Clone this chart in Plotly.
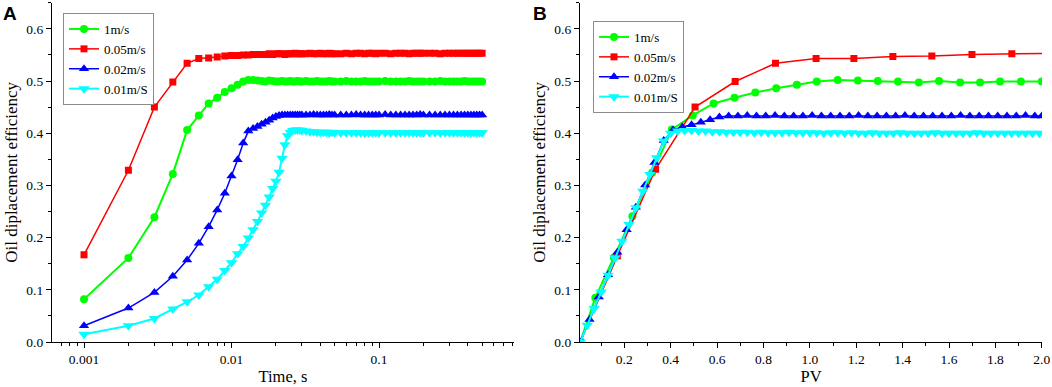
import plotly.graph_objects as go

# ---------------- Panel A: efficiency vs time (log x) ----------------
time_s = [0.001, 0.002, 0.003, 0.004, 0.005, 0.006, 0.007, 0.008, 0.009, 0.010,
          0.011, 0.012, 0.013, 0.014, 0.015, 0.016, 0.017, 0.018, 0.019, 0.020,
          0.021, 0.022, 0.023, 0.024, 0.025, 0.026, 0.027, 0.028, 0.029, 0.030,
          0.032, 0.034, 0.036, 0.038, 0.040, 0.042, 0.044, 0.046, 0.048, 0.050,
          0.055, 0.060, 0.065, 0.070, 0.075, 0.080, 0.085, 0.090, 0.095, 0.100,
          0.11, 0.12, 0.13, 0.14, 0.15, 0.16, 0.17, 0.18, 0.19, 0.20,
          0.22, 0.24, 0.26, 0.28, 0.30, 0.32, 0.34, 0.36, 0.38, 0.40, 0.42, 0.44, 0.46, 0.48, 0.50]

a_1ms = [0.082, 0.161, 0.239, 0.322, 0.406, 0.434, 0.457, 0.468, 0.479, 0.486,
         0.493, 0.499, 0.502, 0.502, 0.501, 0.500, 0.499, 0.501, 0.500, 0.499,
         0.499, 0.500, 0.499, 0.499, 0.500, 0.499, 0.499, 0.500, 0.499, 0.499,
         0.500, 0.499, 0.499, 0.500, 0.499, 0.499, 0.499, 0.500, 0.499, 0.499,
         0.499, 0.500, 0.499, 0.499, 0.499, 0.500, 0.499, 0.499, 0.499, 0.499,
         0.500, 0.499, 0.499, 0.499, 0.499, 0.500, 0.499, 0.499, 0.499, 0.499,
         0.499, 0.499, 0.500, 0.499, 0.499, 0.499, 0.499, 0.499, 0.500, 0.499, 0.499, 0.499, 0.499, 0.499, 0.499]

a_005ms = [0.167, 0.329, 0.450, 0.498, 0.534, 0.543, 0.544, 0.546, 0.548, 0.549,
           0.549, 0.550, 0.550, 0.551, 0.551, 0.551, 0.551, 0.552, 0.551, 0.552,
           0.552, 0.552, 0.551, 0.552, 0.552, 0.552, 0.553, 0.552, 0.552, 0.552,
           0.552, 0.553, 0.552, 0.552, 0.553, 0.552, 0.552, 0.553, 0.552, 0.552,
           0.552, 0.553, 0.552, 0.553, 0.553, 0.552, 0.553, 0.553, 0.552, 0.553,
           0.553, 0.552, 0.553, 0.553, 0.553, 0.552, 0.553, 0.553, 0.553, 0.553,
           0.553, 0.553, 0.552, 0.553, 0.553, 0.553, 0.553, 0.553, 0.553, 0.553, 0.553, 0.553, 0.553, 0.553, 0.553]

a_002ms = [0.031, 0.065, 0.095, 0.126, 0.157, 0.189, 0.221, 0.253, 0.285, 0.318,
           0.349, 0.381, 0.404, 0.409, 0.413, 0.417, 0.421, 0.425, 0.429, 0.432,
           0.434, 0.435, 0.435, 0.435, 0.435, 0.435, 0.435, 0.435, 0.435, 0.435,
           0.435, 0.435, 0.436, 0.435, 0.435, 0.435, 0.435, 0.436, 0.435, 0.435,
           0.435, 0.435, 0.435, 0.436, 0.435, 0.435, 0.435, 0.435, 0.435, 0.435,
           0.436, 0.435, 0.435, 0.435, 0.435, 0.435, 0.435, 0.435, 0.436, 0.435,
           0.435, 0.435, 0.435, 0.435, 0.435, 0.435, 0.435, 0.435, 0.435, 0.435, 0.435, 0.435, 0.435, 0.435, 0.435]

a_001ms = [0.015, 0.031, 0.045, 0.063, 0.077, 0.090, 0.106, 0.120, 0.137, 0.152,
           0.169, 0.183, 0.199, 0.215, 0.231, 0.247, 0.262, 0.278, 0.294, 0.308,
           0.325, 0.352, 0.378, 0.395, 0.402, 0.405, 0.406, 0.406, 0.406, 0.405,
           0.404, 0.403, 0.403, 0.402, 0.402, 0.402, 0.402, 0.401, 0.402, 0.401,
           0.401, 0.401, 0.401, 0.401, 0.401, 0.400, 0.401, 0.401, 0.401, 0.401,
           0.401, 0.401, 0.401, 0.401, 0.401, 0.401, 0.401, 0.401, 0.401, 0.401,
           0.401, 0.401, 0.401, 0.401, 0.401, 0.401, 0.401, 0.401, 0.401, 0.401, 0.401, 0.401, 0.401, 0.401, 0.401]

# ---------------- Panel B: efficiency vs PV ----------------
pv_1ms = [0.01, 0.075, 0.155, 0.235, 0.32, 0.405, 0.495, 0.585, 0.675, 0.765, 0.855, 0.944,
          1.03, 1.12, 1.207, 1.293, 1.38, 1.47, 1.557, 1.648, 1.734, 1.82, 1.91, 2.0]
b_1ms = [0.0, 0.085, 0.162, 0.241, 0.324, 0.407, 0.434, 0.457, 0.468, 0.478, 0.486, 0.493,
         0.499, 0.502, 0.501, 0.500, 0.499, 0.497, 0.500, 0.497, 0.497, 0.499, 0.499, 0.499]

pv_005ms = [0.01, 0.17, 0.335, 0.505, 0.678, 0.852, 1.027, 1.19, 1.358, 1.526, 1.699, 1.871, 2.04]
b_005ms = [0.0, 0.165, 0.331, 0.450, 0.499, 0.534, 0.543, 0.543, 0.547, 0.548, 0.551, 0.552, 0.553]

pv_002ms = [0.01, 0.05, 0.09, 0.13, 0.17, 0.21, 0.25, 0.29, 0.33, 0.37, 0.41, 0.45, 0.49,
            0.53, 0.57, 0.61, 0.65, 0.69, 0.73, 0.77, 0.81, 0.85, 0.89, 0.93, 0.97,
            1.01, 1.05, 1.09, 1.13, 1.17, 1.21, 1.25, 1.29, 1.33, 1.37, 1.41, 1.45, 1.49,
            1.53, 1.57, 1.61, 1.65, 1.69, 1.73, 1.77, 1.81, 1.85, 1.89, 1.93, 1.97, 2.00]
b_002ms = [0.000, 0.043, 0.086, 0.129, 0.172, 0.215, 0.258, 0.301, 0.344, 0.386,
           0.406, 0.412, 0.416, 0.421, 0.426, 0.431, 0.433,
           0.433, 0.434, 0.433, 0.433, 0.434, 0.433, 0.433, 0.433, 0.434, 0.433,
           0.433, 0.433, 0.433, 0.434, 0.433, 0.433, 0.433, 0.433, 0.434, 0.433,
           0.433, 0.433, 0.433, 0.433, 0.434, 0.433, 0.433, 0.433, 0.433, 0.433,
           0.433, 0.434, 0.433, 0.433]

pv_001ms = [0.01, 0.04, 0.07, 0.10, 0.13, 0.16, 0.19, 0.22, 0.25, 0.28, 0.31, 0.34, 0.37,
            0.40, 0.43, 0.46, 0.49, 0.52, 0.55, 0.58, 0.61, 0.64, 0.67, 0.70, 0.73, 0.76,
            0.79, 0.82, 0.85, 0.88, 0.91, 0.94, 0.97, 1.00, 1.03, 1.06, 1.09, 1.12, 1.15,
            1.18, 1.21, 1.24, 1.27, 1.30, 1.33, 1.36, 1.39, 1.42, 1.45, 1.48, 1.51, 1.54,
            1.57, 1.60, 1.63, 1.66, 1.69, 1.72, 1.75, 1.78, 1.81, 1.84, 1.87, 1.90, 1.93,
            1.96, 1.99]
b_001ms = [0.000, 0.032, 0.064, 0.096, 0.128, 0.161, 0.193, 0.225, 0.257, 0.289, 0.321, 0.353, 0.385,
           0.400, 0.404, 0.405, 0.405, 0.404, 0.404, 0.403, 0.403, 0.402,
           0.402, 0.402, 0.402, 0.401, 0.402, 0.401, 0.401, 0.401, 0.402, 0.401,
           0.401, 0.401, 0.401, 0.400, 0.401, 0.401, 0.400, 0.401, 0.400, 0.400,
           0.401, 0.400, 0.400, 0.400, 0.401, 0.400, 0.400, 0.400, 0.400, 0.401,
           0.400, 0.400, 0.400, 0.400, 0.400, 0.401, 0.400, 0.400, 0.400, 0.400,
           0.400, 0.400, 0.400, 0.400, 0.400]

for arr in (a_1ms, a_005ms, a_002ms, a_001ms):
    assert len(arr) == len(time_s), len(arr)
assert len(pv_1ms) == len(b_1ms)
assert len(pv_005ms) == len(b_005ms)
assert len(pv_002ms) == len(b_002ms), (len(pv_002ms), len(b_002ms))
assert len(pv_001ms) == len(b_001ms), (len(pv_001ms), len(b_001ms))

series_names = ["1m/s", "0.05m/s", "0.02m/s", "0.01m/S"]
colors = ["#00FF00", "#FF0000", "#0000FF", "#00FFFF"]
symbols = ["circle", "square", "triangle-up", "triangle-down"]
msizes = [8, 7, 9, 10]
lwidths = [2, 1.5, 1.5, 2]

SERIF = "Liberation Serif"
fig = go.Figure()

a_data = [a_1ms, a_005ms, a_002ms, a_001ms]
b_data = [(pv_1ms, b_1ms), (pv_005ms, b_005ms), (pv_002ms, b_002ms), (pv_001ms, b_001ms)]

for i in range(4):
    fig.add_trace(go.Scatter(
        x=time_s, y=a_data[i], mode="lines+markers", name=series_names[i],
        line=dict(color=colors[i], width=lwidths[i]),
        marker=dict(symbol=symbols[i], size=msizes[i], color=colors[i], line=dict(width=0)),
        xaxis="x", yaxis="y", legend="legend"))
for i in range(4):
    fig.add_trace(go.Scatter(
        x=b_data[i][0], y=b_data[i][1], mode="lines+markers", name=series_names[i],
        line=dict(color=colors[i], width=lwidths[i]),
        marker=dict(symbol=symbols[i], size=msizes[i], color=colors[i], line=dict(width=0)),
        xaxis="x2", yaxis="y2", legend="legend2"))

W, H = 1052, 387
ybot = (H - 342) / H
ytop = (H - 2.7) / H

axis_common = dict(showline=True, linecolor="black", linewidth=1.2, showgrid=False,
                   zeroline=False, ticks="outside", ticklen=5, tickwidth=1.2, tickcolor="black",
                   tickfont=dict(family=SERIF, size=13.5, color="black"), automargin=False)

minor_log = [m * 10.0 ** e for e in (-4, -3, -2, -1) for m in range(2, 10)]

yaxis_common = dict(axis_common, range=[0, 0.65], dtick=0.1, tick0=0, tickformat=".1f",
                    minor=dict(dtick=0.05, tick0=0, ticks="outside", ticklen=3, tickcolor="black"),
                    title=dict(text="Oil diplacement efficiency",
                               font=dict(family=SERIF, size=17, color="black"), standoff=4))

fig.update_layout(
    width=W, height=H, margin=dict(l=0, r=0, t=0, b=0),
    paper_bgcolor="white", plot_bgcolor="white",
    xaxis=dict(axis_common, type="log", domain=[52 / W, 514 / W], range=[-3.217, -0.085],
               tickvals=[0.001, 0.01, 0.1], ticktext=["0.001", "0.01", "0.1"],
               minor=dict(tickvals=minor_log, ticks="outside", ticklen=3, tickcolor="black"),
               title=dict(text="Time, s", font=dict(family=SERIF, size=16.5, color="black"), standoff=4),
               anchor="y"),
    yaxis=dict(yaxis_common, domain=[ybot, ytop], anchor="x"),
    xaxis2=dict(axis_common, domain=[580 / W, 1042 / W], range=[0.009, 2.001],
                dtick=0.2, tick0=0, tickformat=".1f",
                minor=dict(dtick=0.1, tick0=0, ticks="outside", ticklen=3, tickcolor="black"),
                title=dict(text="PV", font=dict(family=SERIF, size=16.5, color="black"), standoff=4),
                anchor="y2"),
    yaxis2=dict(yaxis_common, domain=[ybot, ytop], anchor="x2"),
    legend=dict(x=63 / W, y=(H - 13) / H, xanchor="left", yanchor="top",
                bgcolor="white", bordercolor="#8c8c8c", borderwidth=1,
                font=dict(family=SERIF, size=13, color="black"), tracegroupgap=0),
    legend2=dict(x=593 / W, y=(H - 21) / H, xanchor="left", yanchor="top",
                 bgcolor="white", bordercolor="#8c8c8c", borderwidth=1,
                 font=dict(family=SERIF, size=13, color="black"), tracegroupgap=0),
    annotations=[
        dict(text="<b>A</b>", x=1 / W, y=(H - 1) / H, xref="paper", yref="paper",
             xanchor="left", yanchor="top", showarrow=False,
             font=dict(family="Liberation Sans", size=19, color="black")),
        dict(text="<b>B</b>", x=531 / W, y=(H - 1) / H, xref="paper", yref="paper",
             xanchor="left", yanchor="top", showarrow=False,
             font=dict(family="Liberation Sans", size=19, color="black")),
    ],
)

fig.write_html("out.html", config={"displayModeBar": False},
               post_script="document.body.style.margin='0';")
